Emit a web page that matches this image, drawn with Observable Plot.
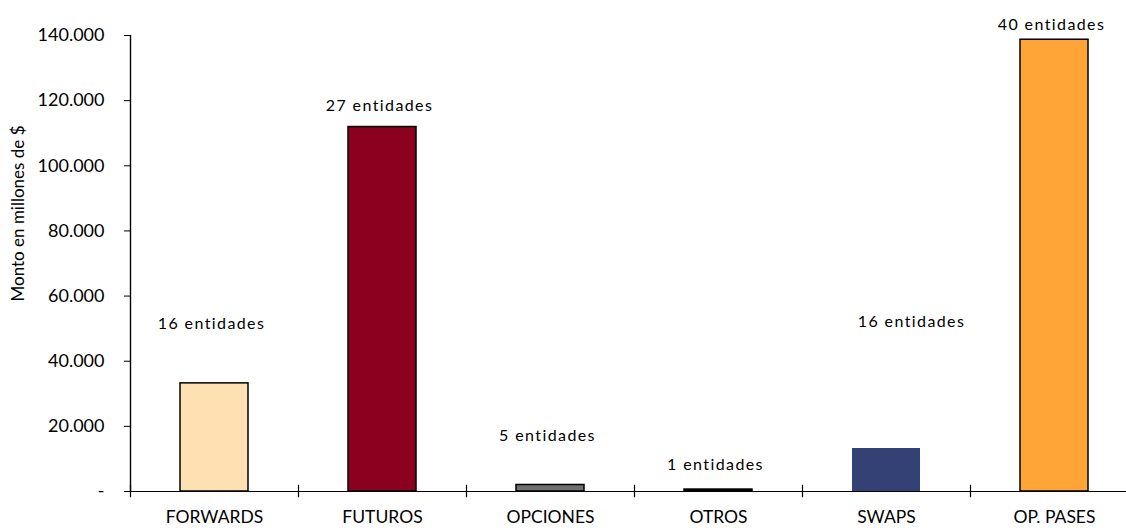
<!DOCTYPE html>
<html><head><meta charset="utf-8">
<script src="https://cdn.jsdelivr.net/npm/d3@7"></script>
<script src="https://cdn.jsdelivr.net/npm/@observablehq/plot@0.6"></script>
<style>
body{margin:0;background:#fff;}
#chart svg{font-family:Lato,"Open Sans",sans-serif;overflow:visible;}
</style>
</head><body><div id="chart"></div>
<script>
const categories = ["FORWARDS","FUTUROS","OPCIONES","OTROS","SWAPS","OP. PASES"];
const montos = [33200, 111900, 2000, 600, 13200, 138700];
const entidades = [16, 27, 5, 1, 16, 40];
const labelY = [51600, 118500, 17200, 8300, 52200, 143400];
const yTicks = [0, 20000, 40000, 60000, 80000, 100000, 120000, 140000];
const yLabel = "Monto en millones de $";

const data = categories.map((c, i) => ({cat: c, monto: montos[i], ent: entidades[i], ly: labelY[i]}));
const fmt = d => d === 0 ? "-" : d3.format(",")(d).replace(/,/g, ".");

const chart = Plot.plot({
  width: 1126,
  height: 528,
  marginTop: 35,
  marginBottom: 37,
  marginLeft: 130,
  marginRight: -12,
  x: {domain: categories, padding: 0},
  y: {domain: [0, 140000]},
  color: {domain: categories, range: ["#FFE0B2", "#8B001E", "#6F6F6F", "#000000", "#334175", "#FFA538"]},
  marks: [
    Plot.barY(data.filter(d => d.cat !== "SWAPS"), {x: "cat", y: "monto", fill: "cat", stroke: "#000", strokeWidth: 1.5, insetLeft: 50, insetRight: 50}),
    Plot.barY(data.filter(d => d.cat === "SWAPS"), {x: "cat", y: "monto", fill: "cat", insetLeft: 50, insetRight: 50}),
    Plot.ruleY([0], {stroke: "#000", strokeWidth: 1.2}),
    Plot.ruleX([0, 140000], {x: () => categories[0], y1: 0, y2: 140000, dx: -84, stroke: "#000", strokeWidth: 1.2}),
    Plot.ruleX(categories, {x: d => d, y1: -1900, y2: 1900, dx: -84, stroke: "#000", strokeWidth: 1.2}),
    Plot.axisY({ticks: yTicks, tickFormat: fmt, tickSize: 6, tickPadding: 20, fontSize: 18, label: null}),
    Plot.axisX({tickSize: 0, tickPadding: 19, fontSize: 17.5, label: null}),
    Plot.text([yLabel], {frameAnchor: "left", textAnchor: "middle", rotate: -90, dx: -112, dy: -50, fontSize: 17}),
    Plot.text(data.filter(d => d.cat !== "SWAPS"), {x: "cat", y: "ly", text: d => d.ent + " entidades", fontSize: 16, fill: "#000", dx: -3, className: "dl"}),
    Plot.text(data.filter(d => d.cat === "SWAPS"), {x: "cat", y: "ly", text: d => d.ent + " entidades", fontSize: 16, fill: "#000", dx: 25, className: "dl"})
  ]
});
chart.querySelectorAll("text").forEach(t => t.setAttribute("fill", "#000"));
chart.querySelectorAll(".dl text").forEach(t => t.setAttribute("letter-spacing", "1.4"));
document.getElementById("chart").appendChild(chart);
</script>
</body></html>
